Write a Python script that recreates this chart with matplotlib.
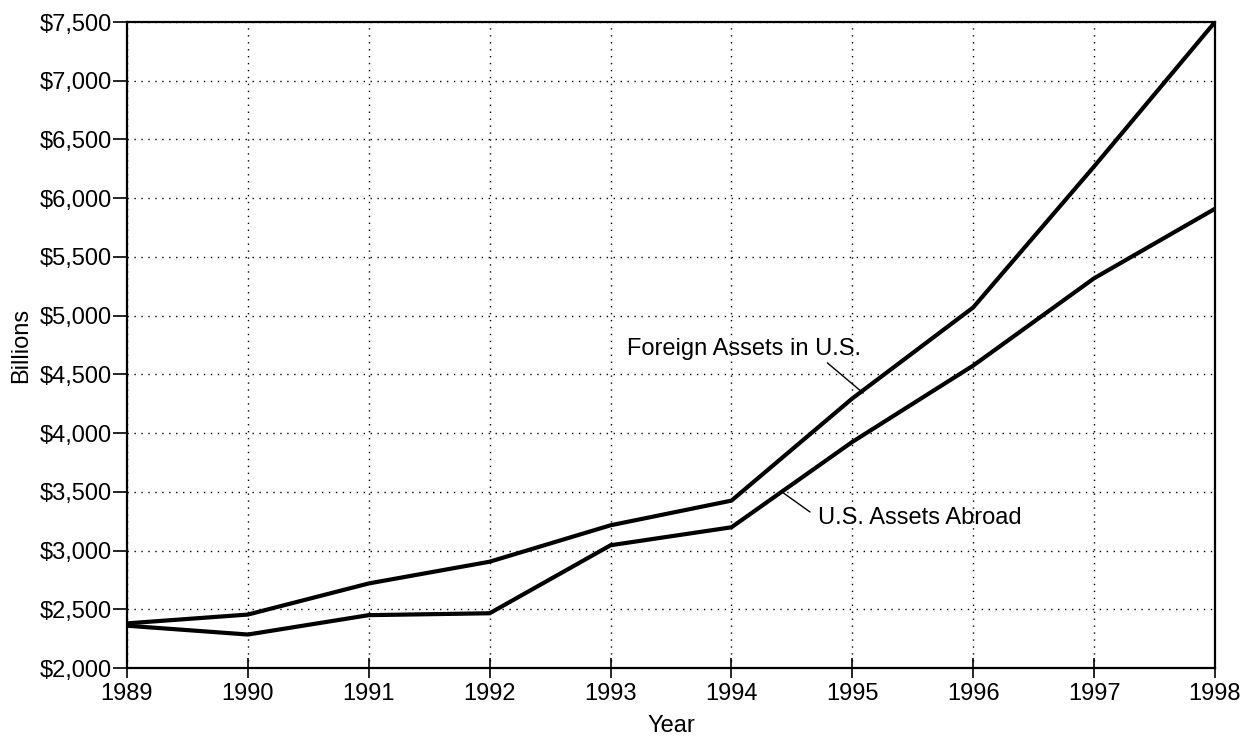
import matplotlib.pyplot as plt
from matplotlib.ticker import FuncFormatter

plt.rcParams['font.family'] = ['Liberation Sans', 'DejaVu Sans']

years = [1989, 1990, 1991, 1992, 1993, 1994, 1995, 1996, 1997, 1998]
foreign_in_us = [2380, 2455, 2720, 2905, 3215, 3425, 4295, 5070, 6270, 7500]
us_abroad = [2360, 2285, 2450, 2466, 3045, 3198, 3925, 4575, 5318, 5910]

fs = 17

fig = plt.figure(figsize=(12.47, 7.37), dpi=100)
ax = fig.add_axes([127 / 1247, 1 - 668 / 737, (1215 - 127) / 1247, (668 - 22) / 737])

ax.plot(years, foreign_in_us, color='black', lw=3, solid_joinstyle='miter', zorder=3)
ax.plot(years, us_abroad, color='black', lw=3, solid_joinstyle='miter', zorder=3)

ax.set_xlim(1989, 1998)
ax.set_ylim(2000, 7500)
ax.set_xticks(years)
ax.set_yticks(range(2000, 7501, 500))
ax.yaxis.set_major_formatter(FuncFormatter(lambda v, p: f'${v:,.0f}'))
ax.grid(True, linestyle=(0, (1, 4)), color='black', lw=1)
ax.tick_params(axis='x', direction='inout', length=14, width=1.2, labelsize=fs, pad=4)
ax.tick_params(axis='y', direction='out', length=10, width=1.2, labelsize=fs, pad=1)
for s in ax.spines.values():
    s.set_linewidth(1.6)

ax.set_xlabel('Year', fontsize=fs, labelpad=7)
ax.set_ylabel('Billions', fontsize=fs, labelpad=5)

ax.annotate('Foreign Assets in U.S.', xy=(1995.09, 4341), xytext=(1993.14, 4715),
            fontsize=fs, va='center', ha='left',
            arrowprops=dict(arrowstyle='-', color='black', lw=1,
                            shrinkA=0, shrinkB=0, relpos=(0.84, 0.0)))
ax.annotate('U.S. Assets Abroad', xy=(1994.43, 3490), xytext=(1994.72, 3277),
            fontsize=fs, va='center', ha='left',
            arrowprops=dict(arrowstyle='-', color='black', lw=1,
                            shrinkA=5, shrinkB=0, relpos=(0.0, 0.5)))

fig.savefig('out.png', dpi=100)
